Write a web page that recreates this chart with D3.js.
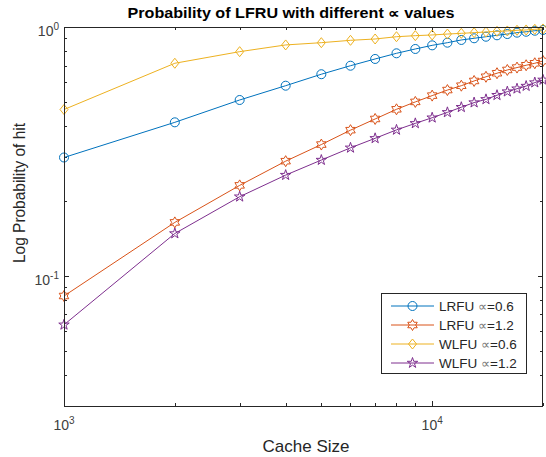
<!DOCTYPE html>
<html>
<head>
<meta charset="utf-8">
<script src="https://cdn.jsdelivr.net/npm/d3@7/dist/d3.min.js"></script>
<style>
  html, body { margin: 0; padding: 0; background: #fff; }
  svg { display: block; font-family: "Liberation Sans", Arial, sans-serif; }
</style>
</head>
<body>
<svg id="chart" width="546" height="457"></svg>
<script>
// ---- data ----
const cacheSizes = [1000, 2000, 3000, 4000, 5000, 6000, 7000, 8000, 9000, 10000,
                    11000, 12000, 13000, 14000, 15000, 16000, 17000, 18000, 19000, 20000];
const lrfu06 = [0.299, 0.414, 0.509, 0.581, 0.646, 0.699, 0.744, 0.784, 0.816, 0.844,
                0.865, 0.887, 0.901, 0.914, 0.926, 0.937, 0.949, 0.957, 0.966, 0.973];
const lrfu12 = [0.083, 0.164, 0.231, 0.289, 0.337, 0.385, 0.427, 0.467, 0.500, 0.530,
                0.558, 0.581, 0.607, 0.631, 0.652, 0.672, 0.687, 0.702, 0.715, 0.730];
const wlfu06 = [0.466, 0.715, 0.796, 0.847, 0.865, 0.884, 0.895, 0.914, 0.923, 0.929,
                0.937, 0.943, 0.949, 0.955, 0.961, 0.964, 0.970, 0.973, 0.979, 0.982];
const wlfu12 = [0.0636, 0.148, 0.208, 0.254, 0.292, 0.327, 0.357, 0.386, 0.410, 0.432,
                0.454, 0.476, 0.497, 0.512, 0.532, 0.550, 0.565, 0.579, 0.598, 0.613];
const seriesNames = ["LRFU \u221D=0.6", "LRFU \u221D=1.2", "WLFU \u221D=0.6", "WLFU \u221D=1.2"];
const xMajorTicks = [1000, 10000];
const xMajorLabels = ["3", "4"];
const xMinorTicks = [2000, 3000, 4000, 5000, 6000, 7000, 8000, 9000, 20000];
const yMajorTicks = [0.1, 1];
const yMajorLabels = ["-1", "0"];
const yMinorTicks = [0.03, 0.04, 0.05, 0.06, 0.07, 0.08, 0.09, 0.2, 0.3, 0.4, 0.5, 0.6, 0.7, 0.8, 0.9];
const titleText = "Probability of LFRU with different \u221D values";
const xLabel = "Cache Size";
const yLabel = "Log Probability of hit";

// ---- layout ----
const L = 64, R = 543, T = 27, B = 406;
const colors = ["#0072BD", "#D95319", "#EDB120", "#7E2F8E"];
const axisColor = "#262626";

const svg = d3.select("#chart");
const x = d3.scaleLog().domain([1000, 20000]).range([L, R]);
const y = d3.scaleLog().domain([0.03, 1]).range([B, T]);

// custom marker shapes
const hexagram = {
  draw(ctx, size) {
    const Ro = Math.sqrt(size) , Ri = Ro / Math.sqrt(3);
    for (let i = 0; i < 12; i++) {
      const a = -Math.PI / 2 + i * Math.PI / 6;
      const r = i % 2 === 0 ? Ro : Ri;
      const px = r * Math.cos(a), py = r * Math.sin(a);
      if (i === 0) ctx.moveTo(px, py); else ctx.lineTo(px, py);
    }
    ctx.closePath();
  }
};
const pentagram = {
  draw(ctx, size) {
    const Ro = Math.sqrt(size), Ri = Ro * 0.382;
    for (let i = 0; i < 10; i++) {
      const a = -Math.PI / 2 + i * Math.PI / 5;
      const r = i % 2 === 0 ? Ro : Ri;
      const px = r * Math.cos(a), py = r * Math.sin(a);
      if (i === 0) ctx.moveTo(px, py); else ctx.lineTo(px, py);
    }
    ctx.closePath();
  }
};
const diamond = {
  draw(ctx, size) {
    const h = Math.sqrt(size), w = h * 0.8;
    ctx.moveTo(0, -h); ctx.lineTo(w, 0); ctx.lineTo(0, h); ctx.lineTo(-w, 0); ctx.closePath();
  }
};
const circle = {
  draw(ctx, size) {
    const r = Math.sqrt(size);
    ctx.moveTo(r, 0); ctx.arc(0, 0, r, 0, 2 * Math.PI);
  }
};
const markerTypes = [circle, hexagram, diamond, pentagram];
const markerSizes = [4.5 * 4.5, 5.5 * 5.5, 5 * 5, 5.5 * 5.5];

const seriesData = [lrfu06, lrfu12, wlfu06, wlfu12];

// axes box
svg.append("rect").attr("x", L).attr("y", T).attr("width", R - L).attr("height", B - T)
  .attr("fill", "#fff");

// ticks (inward) on all four sides
const tickG = svg.append("g").attr("stroke", axisColor).attr("stroke-width", 1);
function xTicks(vals, len) {
  vals.forEach(v => {
    const px = Math.round(x(v)) + 0.5;
    tickG.append("line").attr("x1", px).attr("x2", px).attr("y1", B).attr("y2", B - len);
    tickG.append("line").attr("x1", px).attr("x2", px).attr("y1", T).attr("y2", T + len);
  });
}
function yTicks(vals, len) {
  vals.forEach(v => {
    const py = Math.round(y(v)) + 0.5;
    tickG.append("line").attr("y1", py).attr("y2", py).attr("x1", L).attr("x2", L + len);
    tickG.append("line").attr("y1", py).attr("y2", py).attr("x1", R).attr("x2", R - len);
  });
}
xTicks(xMajorTicks, 5); xTicks(xMinorTicks, 3);
yTicks(yMajorTicks, 5); yTicks(yMinorTicks, 3);

// series
const line = d3.line().x((d, i) => x(cacheSizes[i])).y(d => y(d));
seriesData.forEach((vals, s) => {
  const g = svg.append("g");
  g.append("path").attr("d", line(vals)).attr("fill", "none")
    .attr("stroke", colors[s]).attr("stroke-width", 1);
  const sym = d3.symbol().type(markerTypes[s]).size(markerSizes[s]);
  g.selectAll("path.m").data(vals).join("path").attr("class", "m")
    .attr("transform", (d, i) => `translate(${x(cacheSizes[i])},${y(d)})`)
    .attr("d", sym()).attr("fill", "none").attr("stroke", colors[s]).attr("stroke-width", 1);
});

// box border
svg.append("rect").attr("x", L + 0.5).attr("y", T + 0.5).attr("width", R - L - 1).attr("height", B - T)
  .attr("fill", "none").attr("stroke", axisColor).attr("stroke-width", 1);

// tick labels
const lblG = svg.append("g").attr("fill", "#404040").attr("font-size", 14);
xMajorTicks.forEach((v, i) => {
  const t = lblG.append("text").attr("x", x(v)).attr("y", 430).attr("text-anchor", "middle");
  t.append("tspan").text("10");
  t.append("tspan").attr("dy", -6).attr("font-size", 10).text(xMajorLabels[i]);
});
yMajorTicks.forEach((v, i) => {
  const t = lblG.append("text").attr("x", 59).attr("y", y(v) + 9).attr("text-anchor", "end");
  t.append("tspan").text("10");
  t.append("tspan").attr("dy", -6).attr("font-size", 10).text(yMajorLabels[i]);
});

// title & axis labels
svg.append("text").attr("x", 291).attr("y", 18).attr("text-anchor", "middle")
  .attr("font-size", 14).attr("font-weight", "bold").attr("fill", "#000")
  .attr("textLength", 327).attr("lengthAdjust", "spacingAndGlyphs").text(titleText);
svg.append("text").attr("x", 306).attr("y", 452).attr("text-anchor", "middle")
  .attr("font-size", 17).attr("fill", axisColor).text(xLabel);
svg.append("text").attr("transform", "translate(25,193) rotate(-90)").attr("text-anchor", "middle")
  .attr("font-size", 16).attr("fill", axisColor)
  .attr("textLength", 140).attr("lengthAdjust", "spacingAndGlyphs").text(yLabel);

// legend
const lg = svg.append("g");
lg.append("rect").attr("x", 381.5).attr("y", 293.5).attr("width", 145).attr("height", 80)
  .attr("fill", "#fff").attr("stroke", axisColor).attr("stroke-width", 1);
const rowY = [306, 325, 344, 363];
seriesNames.forEach((name, s) => {
  const yy = rowY[s];
  lg.append("line").attr("x1", 391).attr("x2", 434).attr("y1", yy).attr("y2", yy)
    .attr("stroke", colors[s]).attr("stroke-width", 1);
  const sym = d3.symbol().type(markerTypes[s]).size(markerSizes[s]);
  lg.append("path").attr("transform", `translate(412.5,${yy})`).attr("d", sym())
    .attr("fill", "none").attr("stroke", colors[s]).attr("stroke-width", 1);
  const parts = name.split("\u221D");
  const t = lg.append("text").attr("x", 439).attr("y", yy + 5).attr("font-size", 13.5).attr("fill", axisColor);
  t.append("tspan").text(parts[0]);
  t.append("tspan").attr("fill", "#777").attr("font-size", 13).text("\u221D");
  t.append("tspan").text(parts[1]);
});
</script>
</body>
</html>
